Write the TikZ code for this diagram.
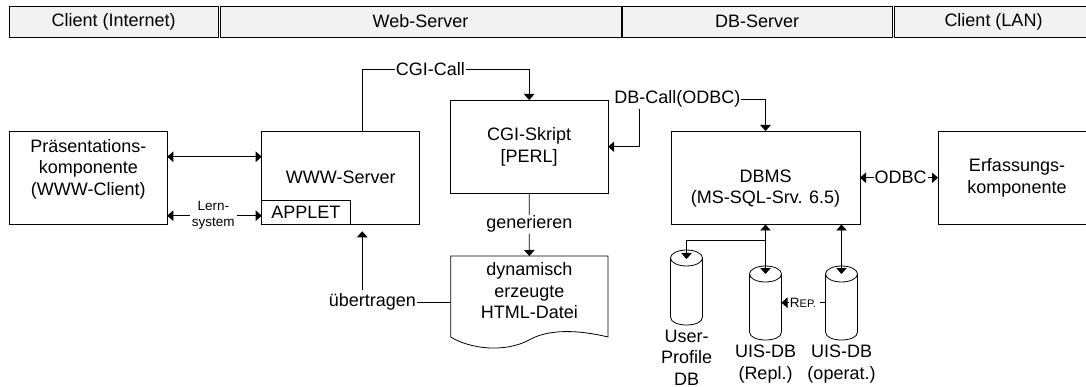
\documentclass[tikz,border=0pt]{standalone}
\usepackage{fontspec}
\setmainfont{Liberation Sans}
\usepackage{tikz}
\usetikzlibrary{positioning,arrows.meta}

\newcommand{\drumshape}[1]{
	\draw[fill=white] ([yshift=-8pt]#1.north west) -- ([yshift=8pt]#1.south west)
		.. controls ([yshift=-2.67pt]#1.south west) and ([yshift=-2.67pt]#1.south east) .. ([yshift=8pt]#1.south east)
		-- ([yshift=-8pt]#1.north east);
	\draw[fill=white] ([yshift=-8pt]#1.north) ellipse [x radius=16pt,y radius=8pt];
}

\begin{document}
\begin{tikzpicture}[x=1pt,y=-1pt,>={Triangle[width=10.5pt,length=6pt]},line width=.8pt,
	every node/.style={font=\fontsize{18}{21.5}\selectfont,align=center,inner sep=0pt,outer sep=0pt},
	head/.style={draw,fill=black!5,minimum height=31pt,anchor=north west},
	comp/.style={draw,fill=white,minimum width=158pt,minimum height=93.5pt},
	drum/.style={minimum width=32pt},
	lbl/.style={inner xsep=1pt,inner ysep=1pt},
	small/.style={font=\fontsize{13.5}{16}\selectfont}]
	\useasboundingbox (0,0) rectangle (1086,387);

	\node[head,minimum width=208.7pt] (hclient) at (9.3,6) {Client (Internet)};
	\node[head,minimum width=401pt] (hweb) at (220,6) {Web-Server};
	\node[head,minimum width=270pt] (hdb) at (622,6) {DB-Server};
	\node[head,minimum width=198pt] (hlan) at (894.5,6) {Client (LAN)};

	\node[comp] (praes) at (88.3,177.75) {Präsentations-\\komponente\\(WWW-Client)\\~};
	\node[comp] (www) [right=94.4pt of praes] {WWW-Server};
	\node[draw,fill=white,minimum width=88.4pt,minimum height=24.5pt,anchor=south west] (applet) at (www.south west) {APPLET};
	\node[comp] (cgi) at (529.2,146.75) {CGI-Skript\\{[PERL]}};
	\node[comp,minimum width=189pt] (dbms) at (765.5,177.75) {\phantom{D}\\DBMS\\(MS-SQL-Srv. 6.5)};
	\node[comp] (erf) [right=78pt of dbms] {Erfassungs-\\komponente};

	\node[minimum width=157.4pt,minimum height=70pt] (html) at (529.35,291) {dynamisch\\erzeugte\\HTML-Datei};
	\draw ([yshift=-11pt]html.south west) .. controls (470,349) and (505,353) .. (529,340)
		.. controls (545,331) and (570,328) .. ([yshift=-11pt]html.south east)
		-- (html.north east) -- (html.north west) -- cycle;

	\node[drum,minimum height=75pt] (user) at (686.5,287.5) {};
	\node[drum,minimum height=74pt] (repl) at (765.5,303) {};
	\node[drum,minimum height=74pt] (oper) at (841.5,303) {};
	\drumshape{user}
	\drumshape{repl}
	\drumshape{oper}
	\node (userl) [below=5pt of user] {User-\\Profile\\DB};
	\node (repll) [below=5pt of repl] {UIS-DB\\(Repl.)};
	\node (operl) [below=5pt of oper] {UIS-DB\\(operat.)};

	\node[lbl] (cgicall) at (430.4,69) {CGI-Call};
	\node[lbl] (dbcall) at (677.3,99.3) {DB-Call(ODBC)};
	\node[lbl] (gen) at (529.3,224.3) {generieren};
	\node[lbl,inner ysep=4pt] (uebertr) at (372.3,302.3) {übertragen};
	\node[lbl] (odbc) at (900.7,177.75) {ODBC};
	\node[lbl,small,inner xsep=2pt] (lern) at (213.3,215.7) {Lern-\\system};
	\node[lbl,small] (rep) at (803,302.7) {R{\fontsize{11}{12}\selectfont EP.}};
	\coordinate (uebtip) at (362.2,231.3);
	\coordinate (branch) at ([yshift=-15.5pt]dbms.south);

	\draw[<->] ([yshift=21pt]praes.east) -- ([yshift=21pt]www.west);
	\draw[->] (lern.west) -- (praes.east |- lern);
	\draw[->] (lern.east) -- (www.west |- lern);
	\draw ([xshift=21.5pt]www.north) |- (cgicall.west);
	\draw[->] (cgicall.east) -| (cgi.north);
	\draw[->] (dbcall.east) -| (dbms.north);
	\draw[->] ([xshift=-37.7pt]dbcall.south) |- (cgi.east);
	\draw (cgi.south) -- (gen.north);
	\draw[->] (gen.south) -- (html.north);
	\draw (html.west |- uebertr) -- (uebertr.east);
	\draw[->] (uebtip |- uebertr.north) -- (uebtip);
	\draw[->] (odbc.west) -- (dbms.east);
	\draw[->] (odbc.east) -- (erf.west);
	\draw[<->] (dbms.south) -- ([yshift=-8pt]repl.north);
	\draw[->] (branch) -| ([yshift=-9pt]user.north);
	\draw[<->] (oper.north |- dbms.south) -- ([yshift=-8pt]oper.north);
	\draw[->] (rep.west) -- (repl.east |- rep);
	\draw (oper.west |- rep) -- ([xshift=3pt]rep.east);
\end{tikzpicture}
\end{document}
